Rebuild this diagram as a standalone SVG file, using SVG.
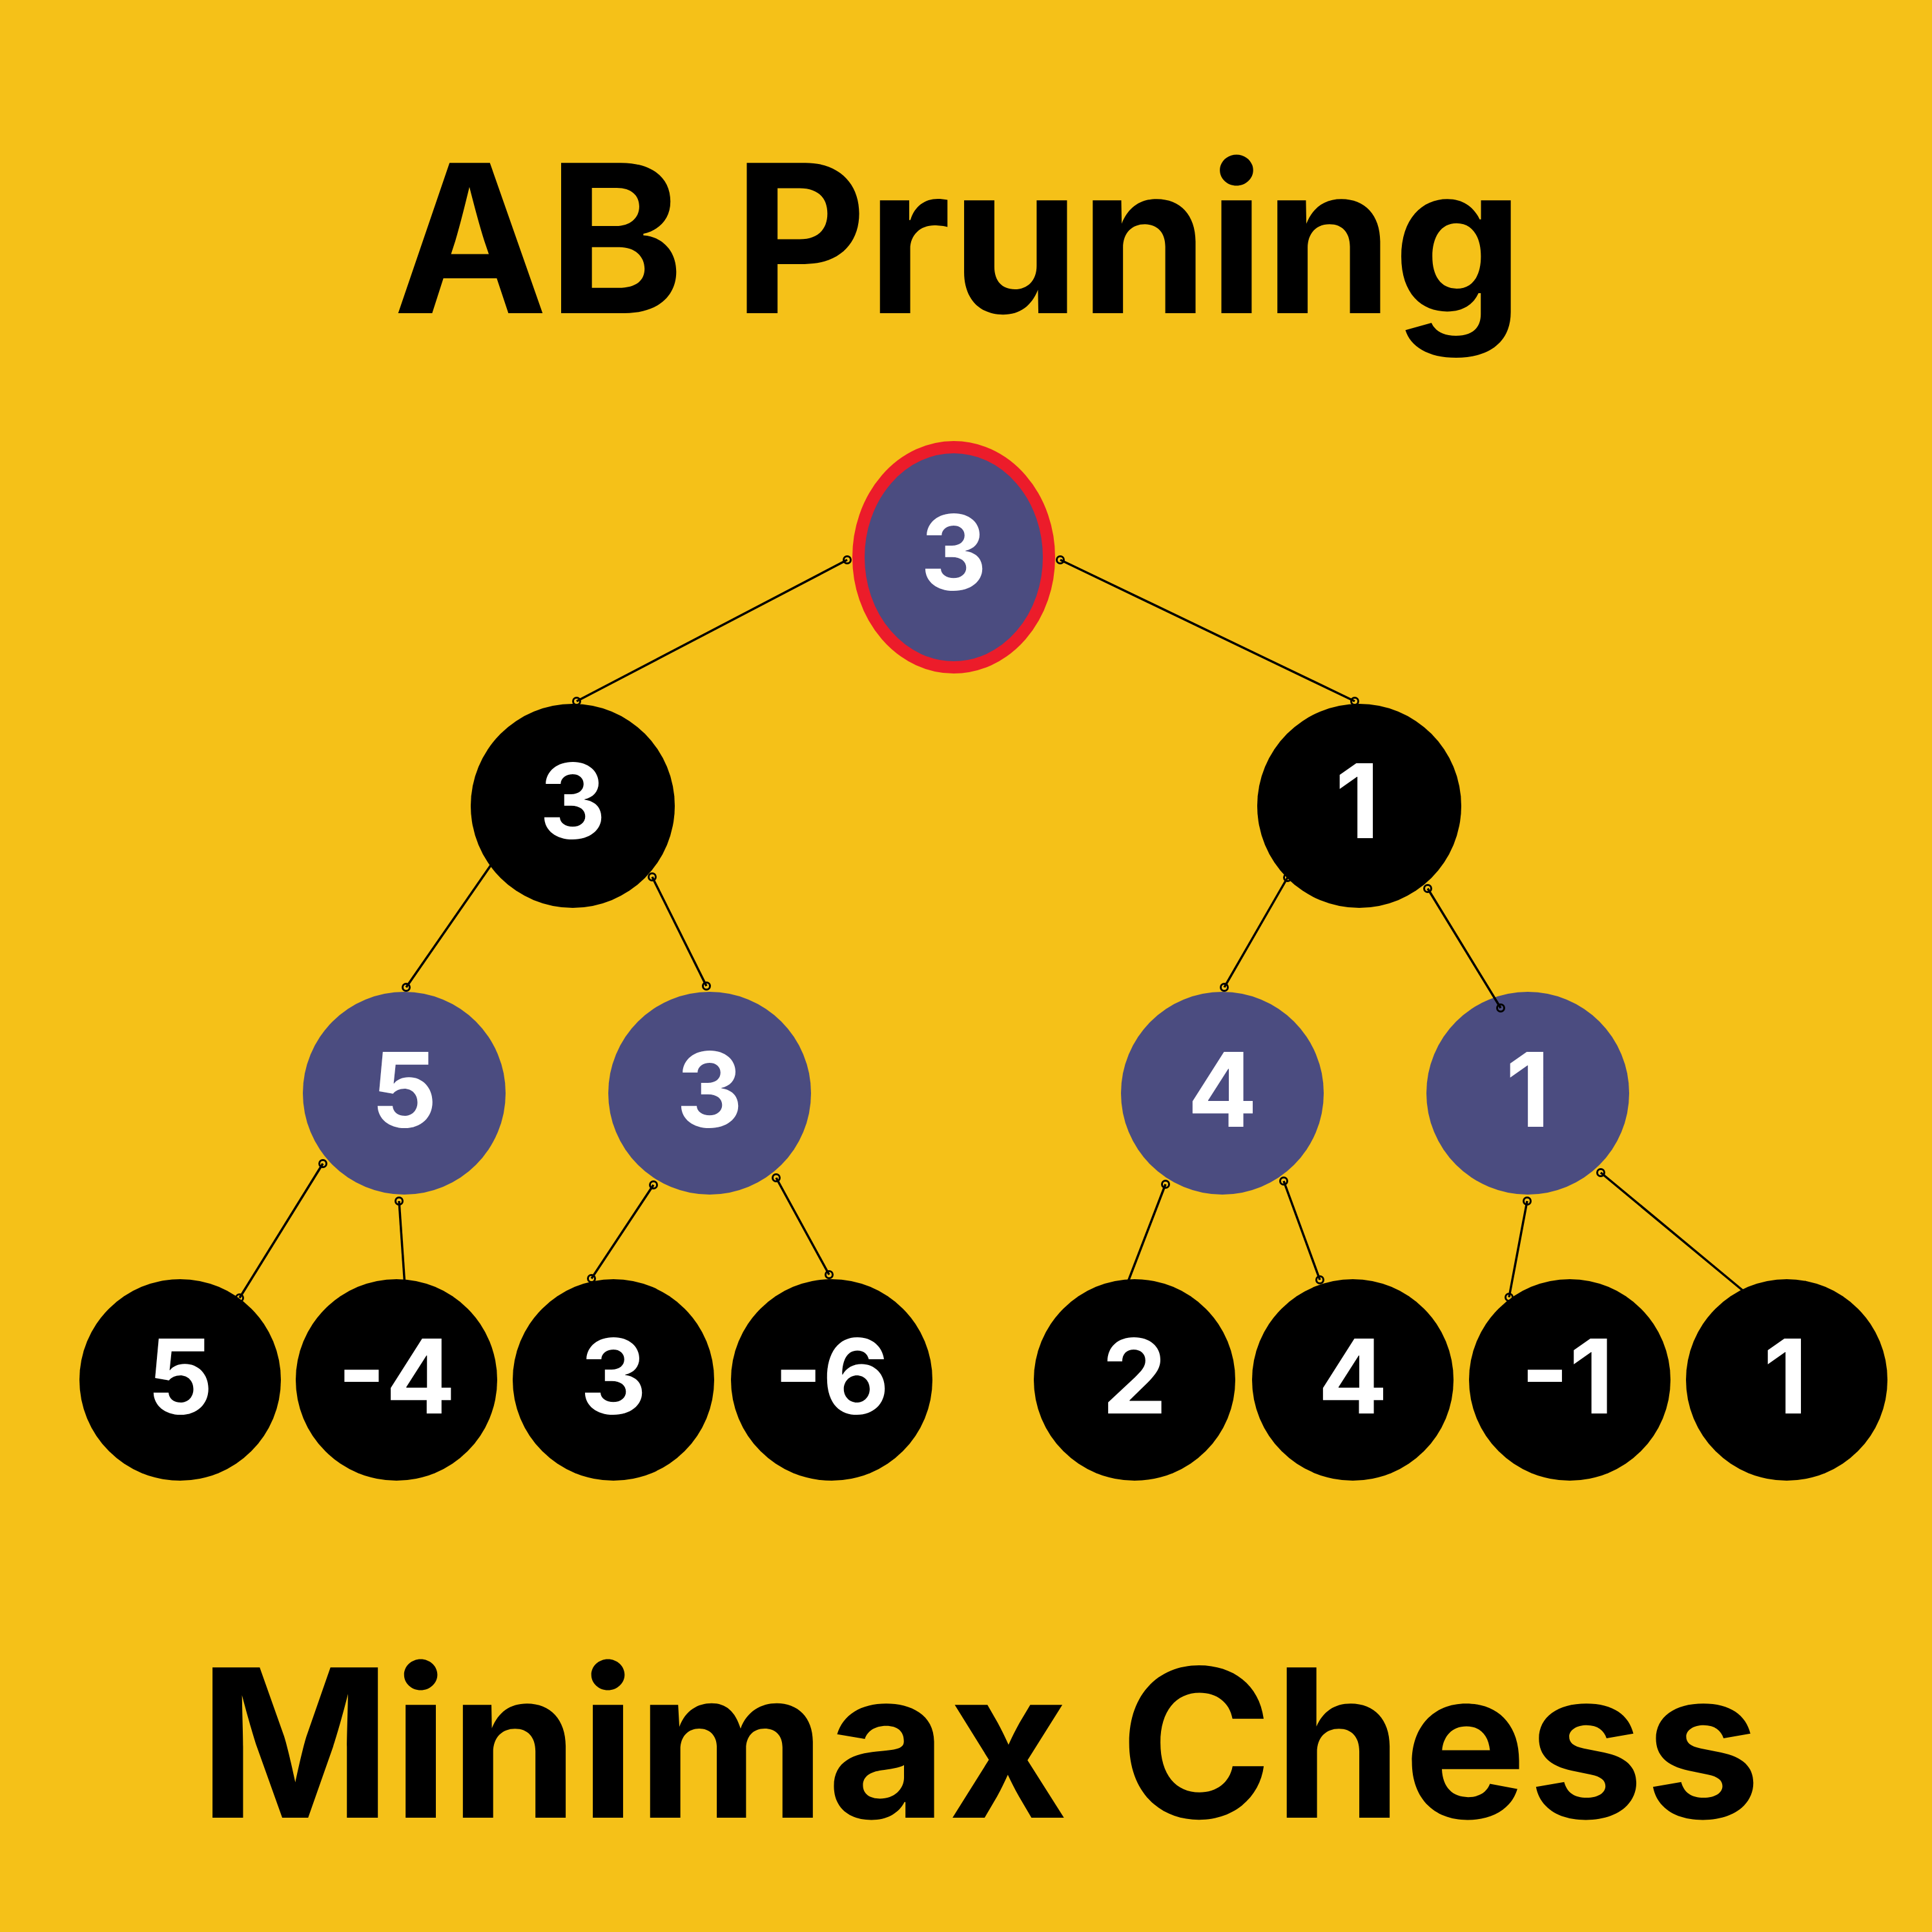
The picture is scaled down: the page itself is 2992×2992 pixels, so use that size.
<svg xmlns="http://www.w3.org/2000/svg" width="2992" height="2992" viewBox="0 0 2992 2992">
<style>
.title{font-family:Inter,"Liberation Sans",sans-serif;font-weight:700;font-size:320px;fill:#000}
.num{font-family:Inter,"Liberation Sans",sans-serif;font-weight:700;font-size:160px;fill:#fff;text-anchor:middle}
.black{fill:#000}
.purple{fill:#4B4C80}
.edge{stroke:#000;stroke-width:3.5;fill:none;marker-start:url(#port);marker-end:url(#port)}
</style>
<defs>
<marker id="port" viewBox="-8 -8 16 16" markerWidth="16" markerHeight="16" refX="0" refY="0" markerUnits="userSpaceOnUse">
<circle r="5.5" fill="none" stroke="#000" stroke-width="3"/>
</marker>
</defs>
<rect width="2992" height="2992" fill="#F5C118"/>
<text class="title" x="609" y="485">AB Pruning</text>
<text class="title" x="308" y="2815" letter-spacing="2">Minimax Chess</text>
<g id="root"><ellipse cx="1477" cy="863" rx="147.5" ry="170.5" fill="#4B4C80" stroke="#EC1C2A" stroke-width="19"/><text class="num" x="1477" y="913">3</text></g>
<g id="n1a"><circle class="black" cx="887" cy="1248" r="158"/><text class="num" x="887" y="1298">3</text></g>
<g id="n1b"><circle class="black" cx="2105" cy="1248" r="158"/><text class="num" x="2102" y="1298">1</text></g>
<g id="n2a"><circle class="purple" cx="626" cy="1693" r="157"/><text class="num" x="626" y="1745">5</text></g>
<g id="n2b"><circle class="purple" cx="1099" cy="1693" r="157"/><text class="num" x="1099" y="1745">3</text></g>
<g id="n2c"><circle class="purple" cx="1893" cy="1693" r="157"/><text class="num" x="1893" y="1745">4</text></g>
<g id="n2d"><circle class="purple" cx="2366" cy="1693" r="157"/><text class="num" x="2366" y="1745">1</text></g>
<g id="l1"><circle class="black" cx="279" cy="2137" r="156"/><text class="num" x="279" y="2189">5</text></g>
<g id="l2"><circle class="black" cx="614" cy="2137" r="156"/><text class="num" x="614" y="2189">-4</text></g>
<g id="l3"><circle class="black" cx="950" cy="2137" r="156"/><text class="num" x="950" y="2189">3</text></g>
<g id="l4"><circle class="black" cx="1288" cy="2137" r="156"/><text class="num" x="1288" y="2189">-6</text></g>
<g id="l5"><circle class="black" cx="1757" cy="2137" r="156"/><text class="num" x="1757" y="2189">2</text></g>
<g id="l6"><circle class="black" cx="2095" cy="2137" r="156"/><text class="num" x="2095" y="2189">4</text></g>
<g id="l7"><circle class="black" cx="2431" cy="2137" r="156"/><text class="num" x="2427" y="2189">-1</text></g>
<g id="l8"><circle class="black" cx="2767" cy="2137" r="156"/><text class="num" x="2765" y="2189">1</text></g>
<g id="connectors">
<line class="edge" x1="1312" y1="867" x2="893" y2="1086"/>
<line class="edge" x1="1642" y1="867" x2="2098" y2="1086"/>
<line class="edge" x1="767" y1="1330" x2="629" y2="1529"/>
<line class="edge" x1="1010" y1="1358" x2="1094" y2="1527"/>
<line class="edge" x1="1994" y1="1359" x2="1896" y2="1529"/>
<line class="edge" x1="2211" y1="1376" x2="2324" y2="1561"/>
<line class="edge" x1="500" y1="1802" x2="371" y2="2010"/>
<line class="edge" x1="618" y1="1860" x2="627" y2="1992"/>
<line class="edge" x1="1012" y1="1835" x2="916" y2="1980"/>
<line class="edge" x1="1202" y1="1824" x2="1284" y2="1974"/>
<line class="edge" x1="1805" y1="1834" x2="1743" y2="1995"/>
<line class="edge" x1="1988" y1="1829" x2="2044" y2="1982"/>
<line class="edge" x1="2365" y1="1860" x2="2337" y2="2009"/>
<line class="edge" x1="2479" y1="1816" x2="2708" y2="2006"/>
</g>
</svg>
